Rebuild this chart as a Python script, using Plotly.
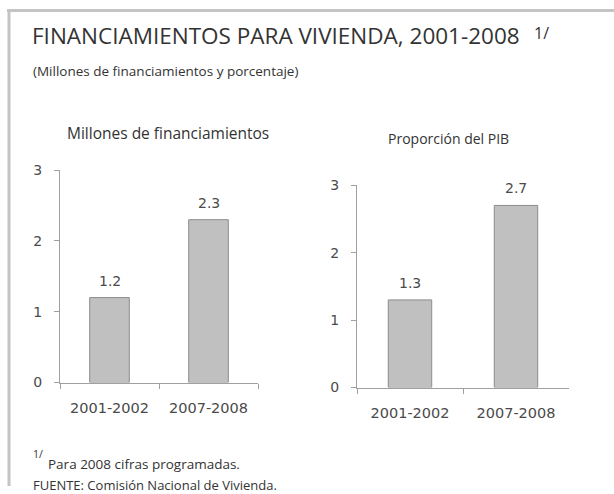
import plotly.graph_objs as go

W, H = 614, 494

periods = ['2001-2002', '2007-2008']
millones = [1.2, 2.3]
pib = [1.3, 2.7]
yticks = [0, 1, 2, 3]

FONT = 'Open Sans'
NUMFONT = 'DejaVu Sans'
TXT = '#333333'
NUMTXT = '#4a4a4a'
BORDER = '#c4c4c4'
AXIS = '#a0a0a0'

# the captured page comes out slightly squeezed vertically,
# so pixel targets are mapped back before use
SQ, OFF = 0.961, 11.0


def px(x):
    return x / W


def py(y):
    return 1 - ((y - OFF) / SQ) / H


def note(text, x, y, size, anchor='left'):
    return dict(text=text, x=px(x), y=py(y), xref='paper', yref='paper',
                xanchor=anchor, yanchor='middle', showarrow=False,
                font=dict(size=size, color=TXT))


traces = []

# Left panel: millones de financiamientos
traces.append(go.Bar(
    x=periods, y=millones,
    xaxis='x', yaxis='y',
    width=0.4,
    marker=dict(color='#c0c0c0', line=dict(color='#8c8c8c', width=1)),
    hoverinfo='x+y',
    showlegend=False))

# Right panel: proporcion del PIB
traces.append(go.Bar(
    x=periods, y=pib,
    xaxis='x2', yaxis='y2',
    width=0.41,
    marker=dict(color='#c0c0c0', line=dict(color='#8c8c8c', width=1)),
    hoverinfo='x+y',
    showlegend=False))

xaxis_common = dict(
    type='category', showline=True, linecolor=AXIS, linewidth=1,
    ticks='outside', tickson='boundaries', ticklen=5, tickcolor=AXIS,
    ticklabelstandoff=12,
    showgrid=False, zeroline=False,
    tickfont=dict(family=NUMFONT, size=14.5, color=NUMTXT))
yaxis_common = dict(
    range=[0, 3], tickvals=yticks, showline=True, linecolor=AXIS,
    linewidth=1, ticks='outside', ticklen=5, tickcolor=AXIS,
    ticklabelstandoff=9,
    showgrid=False, zeroline=False,
    tickfont=dict(family=NUMFONT, size=14, color=NUMTXT))

# value labels above each bar
value_labels = []
for xr, yr, vals in [('x', 'y', millones), ('x2', 'y2', pib)]:
    for p, v in zip(periods, vals):
        value_labels.append(dict(
            text='%.1f' % v, x=p, y=v, xref=xr, yref=yr,
            xanchor='center', yanchor='bottom', yshift=7,
            showarrow=False,
            font=dict(family=NUMFONT, size=14, color=NUMTXT)))

layout = go.Layout(
    width=W, height=H,
    autosize=False,
    margin=dict(l=0, r=0, t=0, b=0),
    paper_bgcolor='white',
    plot_bgcolor='white',
    font=dict(family=FONT, color=TXT),
    xaxis=dict(domain=[px(60), px(258)], anchor='y', **xaxis_common),
    yaxis=dict(domain=[py(383), py(172)], anchor='x', **yaxis_common),
    xaxis2=dict(domain=[px(357), px(569)], anchor='y2', **xaxis_common),
    yaxis2=dict(domain=[py(388), py(187)], anchor='x2', **yaxis_common),
    shapes=[
        dict(type='line', xref='paper', yref='paper',
             x0=px(7), x1=1, y0=py(13.5), y1=py(13.5),
             line=dict(color=BORDER, width=3)),
        dict(type='line', xref='paper', yref='paper',
             x0=px(9), x1=px(9), y0=py(12), y1=0,
             line=dict(color=BORDER, width=3)),
    ],
    annotations=[
        note('FINANCIAMIENTOS PARA VIVIENDA, 2001-2008', 30, 38, 22.5),
        note('1/', 532, 36, 16),
        note('(Millones de financiamientos y porcentaje)', 31, 74, 13.5),
        note('Millones de financiamientos', 168, 135, 15.5, 'center'),
        note('Proporción del PIB', 448, 141, 14, 'center'),
        note('1/', 31, 454, 10.5),
        note('Para 2008 cifras programadas.', 46, 464, 13.5),
        note('FUENTE: Comisión Nacional de Vivienda.', 31, 485, 13),
    ] + value_labels,
)

fig = go.Figure(data=traces, layout=layout)
fig.write_html("out.html",
               config={'displayModeBar': False},
               post_script="document.body.style.margin='0';"
                           "document.body.style.overflow='hidden';")
